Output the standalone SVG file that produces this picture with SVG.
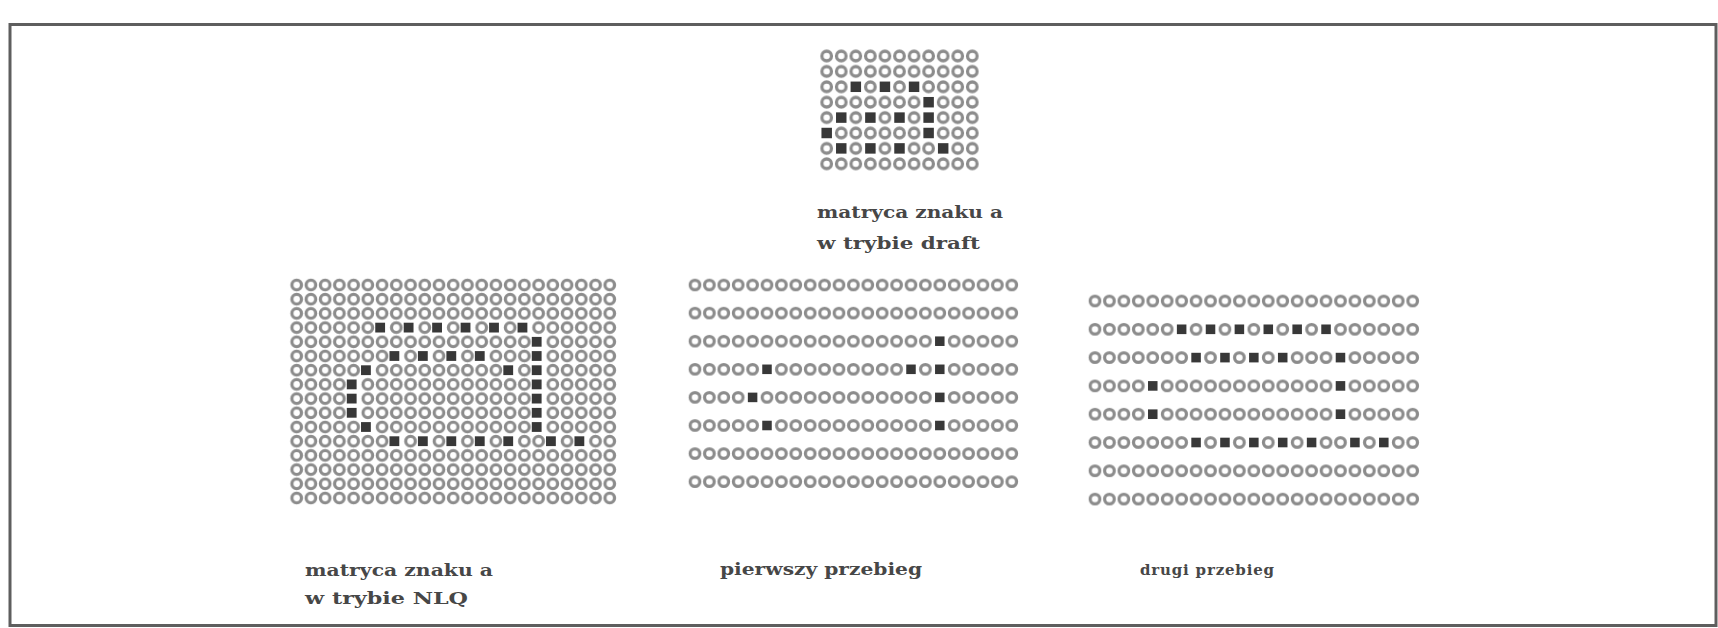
<svg xmlns="http://www.w3.org/2000/svg" xmlns:xlink="http://www.w3.org/1999/xlink" width="1718" height="628" viewBox="0 0 1718 628">
<style>
.ring{fill:none;stroke:#8c8c8c;stroke-width:3.2}
.dot{fill:#383838}
.wh{fill:#ffffff}
.lbl{font-family:"DejaVu Serif","Liberation Serif",serif;font-weight:bold;font-size:16px;fill:#474747}
</style>
<defs>
<pattern id="pT" patternUnits="userSpaceOnUse" x="819.42" y="48.3" width="14.56" height="15.4"><circle class="ring" cx="7.28" cy="7.7" r="4.8"/></pattern>
<pattern id="pN" patternUnits="userSpaceOnUse" x="289.585" y="277.9" width="14.23" height="14.2"><circle class="ring" cx="7.115" cy="7.1" r="4.8"/></pattern>
<pattern id="p1" patternUnits="userSpaceOnUse" x="687.8" y="270.95" width="14.4" height="28.1"><circle class="ring" cx="7.2" cy="14.05" r="4.8"/></pattern>
<pattern id="p2" patternUnits="userSpaceOnUse" x="1087.78" y="286.85" width="14.44" height="28.3"><circle class="ring" cx="7.22" cy="14.15" r="4.8"/></pattern>
<g id="fT"><rect class="wh" x="-0.5" y="-0.5" width="1" height="1"/><rect class="dot" x="-0.36" y="-0.34" width="0.72" height="0.68"/></g>
<g id="fN"><rect class="wh" x="-0.5" y="-0.5" width="1" height="1"/><rect class="dot" x="-0.48" y="-0.345" width="0.69" height="0.69"/></g>
<g id="f1"><rect class="wh" x="-0.5" y="-0.3" width="1" height="0.6"/><rect class="dot" x="-0.33" y="-0.17" width="0.66" height="0.34"/></g>
<g id="f2"><rect class="wh" x="-0.5" y="-0.3" width="1" height="0.6"/><rect class="dot" x="-0.33" y="-0.17" width="0.66" height="0.34"/></g>
</defs>
<rect x="0" y="0" width="1718" height="628" fill="#ffffff"/>
<rect x="10" y="24.5" width="1706" height="601" fill="none" stroke="#5e5e5e" stroke-width="3"/>

<g id="draft-matrix">
<rect x="819.42" y="48.3" width="160.16" height="123.2" fill="url(#pT)"/>
<g transform="translate(826.7,56) scale(14.56,15.4)">
<use href="#fT" x="2" y="2"/><use href="#fT" x="4" y="2"/><use href="#fT" x="6" y="2"/>
<use href="#fT" x="7" y="3"/>
<use href="#fT" x="1" y="4"/><use href="#fT" x="3" y="4"/><use href="#fT" x="5" y="4"/><use href="#fT" x="7" y="4"/>
<use href="#fT" x="0" y="5"/><use href="#fT" x="7" y="5"/>
<use href="#fT" x="1" y="6"/><use href="#fT" x="3" y="6"/><use href="#fT" x="5" y="6"/><use href="#fT" x="8" y="6"/>
</g>
<text class="lbl" x="817" y="218" textLength="186" lengthAdjust="spacingAndGlyphs">matryca znaku a</text>
<text class="lbl" x="817" y="249" textLength="163" lengthAdjust="spacingAndGlyphs">w trybie draft</text>
</g>

<g id="nlq-matrix">
<rect x="289.585" y="277.9" width="327.29" height="227.2" fill="url(#pN)"/>
<g transform="translate(296.7,285) scale(14.23,14.2)">
<use href="#fN" x="6" y="3"/><use href="#fN" x="8" y="3"/><use href="#fN" x="10" y="3"/><use href="#fN" x="12" y="3"/><use href="#fN" x="14" y="3"/><use href="#fN" x="16" y="3"/>
<use href="#fN" x="17" y="4"/>
<use href="#fN" x="7" y="5"/><use href="#fN" x="9" y="5"/><use href="#fN" x="11" y="5"/><use href="#fN" x="13" y="5"/><use href="#fN" x="17" y="5"/>
<use href="#fN" x="5" y="6"/><use href="#fN" x="15" y="6"/><use href="#fN" x="17" y="6"/>
<use href="#fN" x="4" y="7"/><use href="#fN" x="17" y="7"/>
<use href="#fN" x="4" y="8"/><use href="#fN" x="17" y="8"/>
<use href="#fN" x="4" y="9"/><use href="#fN" x="17" y="9"/>
<use href="#fN" x="5" y="10"/><use href="#fN" x="17" y="10"/>
<use href="#fN" x="7" y="11"/><use href="#fN" x="9" y="11"/><use href="#fN" x="11" y="11"/><use href="#fN" x="13" y="11"/><use href="#fN" x="15" y="11"/><use href="#fN" x="18" y="11"/><use href="#fN" x="20" y="11"/>
</g>
<text class="lbl" x="305" y="576" textLength="188" lengthAdjust="spacingAndGlyphs">matryca znaku a</text>
<text class="lbl" x="305" y="604" textLength="163" lengthAdjust="spacingAndGlyphs">w trybie NLQ</text>
</g>

<g id="first-pass">
<rect x="687.8" y="270.95" width="331.2" height="224.8" fill="url(#p1)"/>
<g transform="translate(695,285) scale(14.4,28.1)">
<use href="#f1" x="17" y="2"/>
<use href="#f1" x="5" y="3"/><use href="#f1" x="15" y="3"/><use href="#f1" x="17" y="3"/>
<use href="#f1" x="4" y="4"/><use href="#f1" x="17" y="4"/>
<use href="#f1" x="5" y="5"/><use href="#f1" x="17" y="5"/>
</g>
<text class="lbl" x="720" y="575" textLength="202" lengthAdjust="spacingAndGlyphs">pierwszy przebieg</text>
</g>

<g id="second-pass">
<rect x="1087.78" y="286.85" width="332.12" height="226.4" fill="url(#p2)"/>
<g transform="translate(1095,301) scale(14.44,28.3)">
<use href="#f2" x="6" y="1"/><use href="#f2" x="8" y="1"/><use href="#f2" x="10" y="1"/><use href="#f2" x="12" y="1"/><use href="#f2" x="14" y="1"/><use href="#f2" x="16" y="1"/>
<use href="#f2" x="7" y="2"/><use href="#f2" x="9" y="2"/><use href="#f2" x="11" y="2"/><use href="#f2" x="13" y="2"/><use href="#f2" x="17" y="2"/>
<use href="#f2" x="4" y="3"/><use href="#f2" x="17" y="3"/>
<use href="#f2" x="4" y="4"/><use href="#f2" x="17" y="4"/>
<use href="#f2" x="7" y="5"/><use href="#f2" x="9" y="5"/><use href="#f2" x="11" y="5"/><use href="#f2" x="13" y="5"/><use href="#f2" x="15" y="5"/><use href="#f2" x="18" y="5"/><use href="#f2" x="20" y="5"/>
</g>
<text class="lbl" x="1140" y="575" font-size="15" textLength="134" lengthAdjust="spacing" style="font-size:15px">drugi przebieg</text>
</g>
</svg>
